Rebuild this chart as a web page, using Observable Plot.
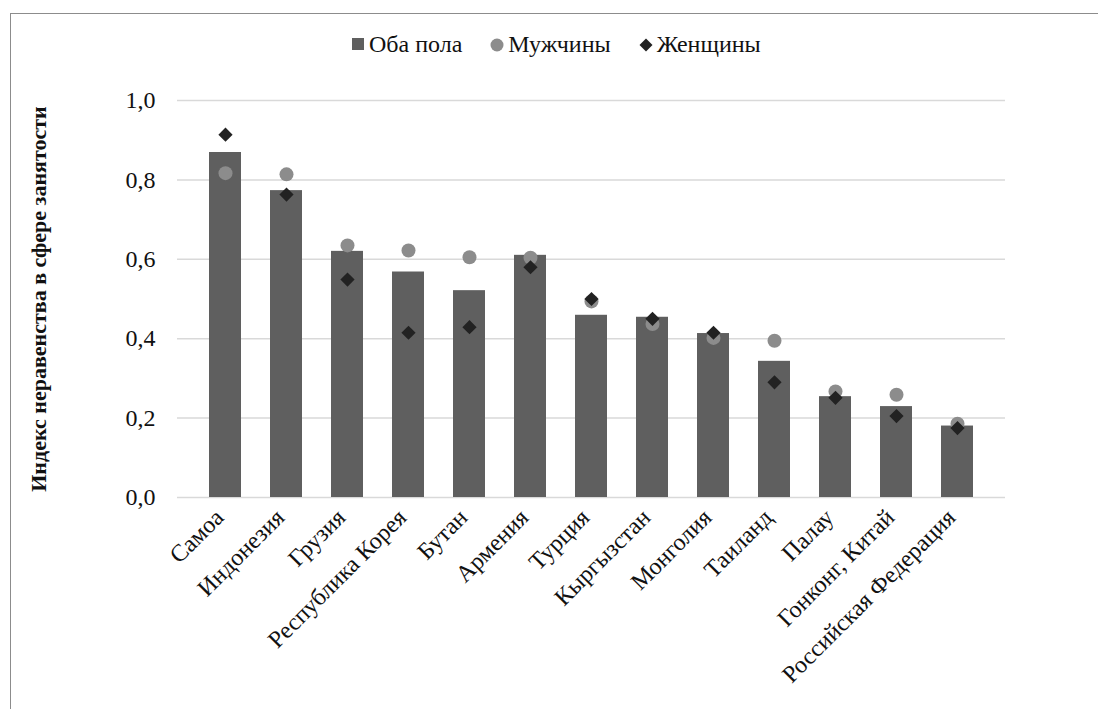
<!DOCTYPE html>
<html lang="ru">
<head>
<meta charset="utf-8">
<script src="https://cdn.jsdelivr.net/npm/d3@7"></script>
<script src="https://cdn.jsdelivr.net/npm/@observablehq/plot@0.6"></script>
<style>
  html, body { margin: 0; padding: 0; background: #fff; }
  body { width: 1098px; height: 709px; position: relative; overflow: hidden;
         font-family: "Liberation Serif", "Tinos", "DejaVu Serif", serif; }
  #frame { position: absolute; left: 10px; top: 13px; width: 1200px; height: 800px;
           border-left: 1px solid #8c8c8c; border-top: 1px solid #8c8c8c; }
  #legend { position: absolute; left: 352px; top: 31px; display: flex; align-items: center;
            font-size: 24px; color: #111; white-space: nowrap; }
  #legend .item { display: flex; align-items: center; margin-right: 28px; }
  #legend svg { margin-right: 4px; }
  #chart { position: absolute; left: 0; top: 60px; }
  #chart svg text { font-family: "Liberation Serif", "Tinos", "DejaVu Serif", serif; }
</style>
</head>
<body>
<div id="frame"></div>
<div id="legend"></div>
<div id="chart"></div>
<script>
// Индекс неравенства в сфере занятости по странам
const countries = ["Самоа", "Индонезия", "Грузия", "Республика Корея", "Бутан", "Армения", "Турция",
  "Кыргызстан", "Монголия", "Таиланд", "Палау", "Гонконг, Китай", "Российская Федерация"];
const both  = [0.869, 0.773, 0.620, 0.568, 0.521, 0.610, 0.459, 0.454, 0.413, 0.343, 0.254, 0.229, 0.180];
const men   = [0.817, 0.814, 0.635, 0.622, 0.605, 0.604, 0.494, 0.437, 0.402, 0.395, 0.267, 0.259, 0.186];
const women = [0.914, 0.763, 0.549, 0.415, 0.429, 0.580, 0.500, 0.450, 0.415, 0.290, 0.251, 0.205, 0.175];
const yTicks = [0, 0.2, 0.4, 0.6, 0.8, 1.0];

const seriesNames = ["Оба пола", "Мужчины", "Женщины"];
const colBoth = "#5f5f5f", colMen = "#8c8c8c", colWomen = "#222222";
const serif = "'Liberation Serif', 'Tinos', 'DejaVu Serif', serif";

const rows = countries.map((c, i) => ({country: c, both: both[i], men: men[i], women: women[i]}));
const fmt = d => d.toFixed(1).replace(".", ",");

const chart = Plot.plot({
  width: 1098,
  height: 649,
  marginLeft: 177,
  marginRight: 93,
  marginTop: 40,
  marginBottom: 212,
  style: {fontFamily: serif, fontSize: "24px", color: "#111", background: "transparent"},
  x: {domain: countries, padding: 0.48},
  y: {domain: [0, 1], ticks: yTicks},
  marks: [
    Plot.gridY(yTicks, {stroke: "#d9d9d9", strokeOpacity: 1, strokeWidth: 1.5}),
    Plot.axisY(yTicks, {tickSize: 0, tickPadding: 22, tickFormat: fmt, fontSize: 24,
      label: "Индекс неравенства в сфере занятости", labelAnchor: "center", labelArrow: "none",
      labelOffset: 147}),
    Plot.axisX({tickSize: 0, tickPadding: 16, dx: -6, tickRotate: -45, fontSize: 24, label: null}),
    Plot.barY(rows, {x: "country", y: "both", fill: colBoth}),
    Plot.dot(rows, {x: "country", y: "men", r: 7, fill: colMen, symbol: "circle"}),
    Plot.dot(rows, {x: "country", y: "women", r: 6.4, fill: colWomen, symbol: "diamond2"})
  ]
});
// bold axis title
chart.querySelectorAll("g[aria-label='y-axis label']").forEach(el => {
  el.style.fontWeight = "bold";
  el.style.fontSize = "22px";
});
document.getElementById("chart").appendChild(chart);

// Легенда
const legend = document.getElementById("legend");
const markers = [
  `<svg width="13" height="13"><rect x="0" y="0" width="12" height="12" fill="${colBoth}"/></svg>`,
  `<svg width="14" height="14"><circle cx="7" cy="7" r="6.5" fill="${colMen}"/></svg>`,
  `<svg width="14" height="14"><path d="M7,0.5L13.5,7L7,13.5L0.5,7Z" fill="${colWomen}"/></svg>`
];
seriesNames.forEach((name, i) => {
  const item = document.createElement("div");
  item.className = "item";
  item.innerHTML = markers[i] + `<span>${name}</span>`;
  legend.appendChild(item);
});
</script>
</body>
</html>
